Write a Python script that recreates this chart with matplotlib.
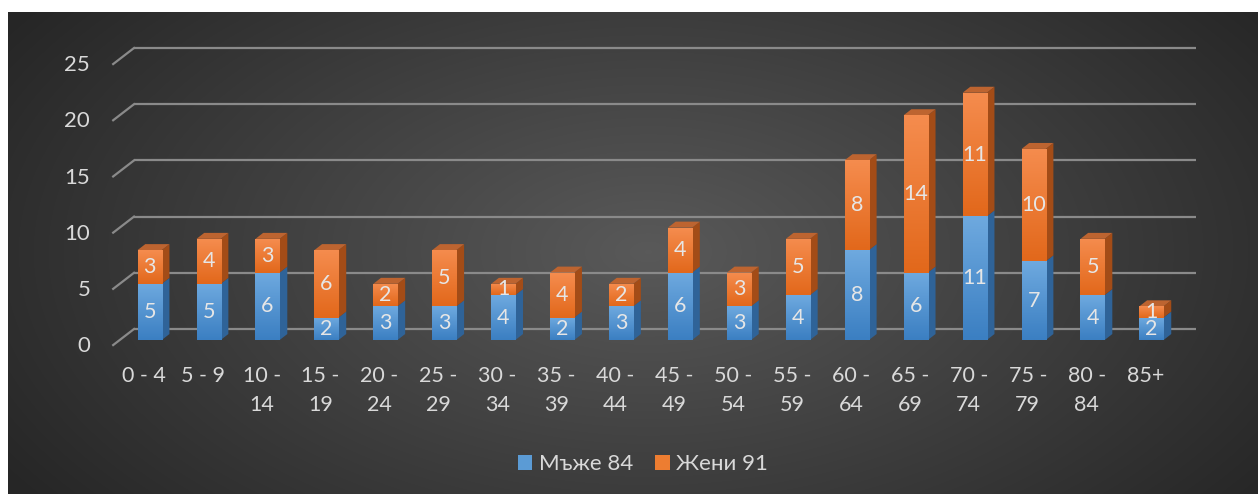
import matplotlib
matplotlib.use('Agg')
import matplotlib.pyplot as plt
from matplotlib.patches import Polygon, Patch
from matplotlib.colors import LinearSegmentedColormap
import numpy as np

# chart data
categories = ['0 - 4', '5 - 9', '10 -\n14', '15 -\n19', '20 -\n24', '25 -\n29',
              '30 -\n34', '35 -\n39', '40 -\n44', '45 -\n49', '50 -\n54', '55 -\n59',
              '60 -\n64', '65 -\n69', '70 -\n74', '75 -\n79', '80 -\n84', '85+']
men = [5, 5, 6, 2, 3, 3, 4, 2, 3, 6, 3, 4, 8, 6, 11, 7, 4, 2]
women = [3, 4, 3, 6, 2, 5, 1, 4, 2, 4, 3, 5, 8, 14, 11, 10, 5, 1]
series_names = ['Мъже 84', 'Жени 91']
y_ticks = [0, 5, 10, 15, 20, 25]

plt.rcParams['font.family'] = ['Lato', 'Open Sans', 'DejaVu Sans']
txt_col = '#d9d9d9'

W, H = 1258, 494
fig = plt.figure(figsize=(W / 100, H / 100), dpi=100)
fig.patch.set_facecolor('white')

# dark radial background
bg = fig.add_axes([8 / W, 0, 1 - 8 / W, (H - 12) / H])
bg.axis('off')
yy, xx = np.mgrid[0:H - 12, 0:W - 8]
r = np.sqrt(((xx - 640) / 760.0) ** 2 + ((yy - 240) / 420.0) ** 2)
r = np.clip(r, 0, 1)
shade = 0.35 - 0.2 * r
bg.imshow(np.dstack([shade, shade, shade]), aspect='auto', interpolation='bilinear')

# main axes over the whole figure, data units map onto pixels
ax = fig.add_axes([0, 0, 1, 1])
ax.patch.set_alpha(0)
ax.axis('off')
step_px, unit_px, x0_px, y0_px = 58.93, 11.24, 149.7, 340
xlim = (-x0_px / step_px, (W - x0_px) / step_px)
ylim = ((y0_px - H) / unit_px, y0_px / unit_px)

x = np.arange(len(categories))
w = 0.41
dx, dy = 0.13, 0.53

# gridlines at the back wall + left wall diagonals
for v in y_ticks:
    ax.plot([-0.266, 17.755], [v + 0.98, v + 0.98], color='#8a8a8a', lw=1.6, zorder=1,
            solid_capstyle='butt')
    ax.plot([-0.62, -0.266], [v - 0.45, v + 0.98], color='#8a8a8a', lw=1.6, zorder=1)
    ax.text(-1.01, v - 0.55, str(v), color=txt_col, fontsize=16, ha='right', va='center')

blue_cm = LinearSegmentedColormap.from_list('b', ['#3b7fc2', '#6ea9df'])
orange_cm = LinearSegmentedColormap.from_list('o', ['#e2681b', '#f58c4e'])
grad = np.linspace(0, 1, 64).reshape(-1, 1)

def draw_segment(bars, bottoms, vals, cmap, side_col, top_col, z, draw_top):
    for i, p in enumerate(bars):
        b = bottoms[i]
        t = b + vals[i]
        xl = x[i] - w / 2
        xr = x[i] + w / 2
        side = Polygon([(xr, b), (xr + dx, b + dy), (xr + dx, t + dy), (xr, t)],
                       closed=True, facecolor=side_col, edgecolor='none', zorder=z)
        ax.add_patch(side)
        if draw_top:
            top = Polygon([(xl, t), (xl + dx, t + dy), (xr + dx, t + dy), (xr, t)],
                          closed=True, facecolor=top_col, edgecolor='none', zorder=z + 0.1)
            ax.add_patch(top)
        im = ax.imshow(grad, extent=[xl, xr, b, t], origin='lower', cmap=cmap,
                       aspect='auto', zorder=z + 0.2)
        im.set_clip_path(p)
        ax.text(x[i], b + vals[i] / 2, str(vals[i]), color='#e6e6e6', fontsize=15.5,
                ha='center', va='center', zorder=10)

bars_m = ax.bar(x, men, width=w, color='#5b9bd5', zorder=2)
draw_segment(bars_m, [0] * len(men), men, blue_cm, '#2f6398', '#4a87c2', 2, False)
bars_f = ax.bar(x, women, width=w, bottom=men, color='#ed7d31', zorder=3)
draw_segment(bars_f, men, women, orange_cm, '#a34c17', '#bd6430', 3, True)

for i, lab in enumerate(categories):
    ax.text(x[i] - 0.1, -2.3, lab, color=txt_col, fontsize=15.5, ha='center', va='top',
            linespacing=1.6)

ax.set_xlim(*xlim)
ax.set_ylim(*ylim)

handles = [Patch(facecolor='#5b9bd5', label=series_names[0]),
           Patch(facecolor='#ed7d31', label=series_names[1])]
leg = fig.legend(handles=handles, loc='center', bbox_to_anchor=(643 / W, 1 - 464 / H),
                 ncol=2, frameon=False, fontsize=16, handlelength=0.65, handleheight=0.65,
                 handletextpad=0.3, columnspacing=1.0)
for t in leg.get_texts():
    t.set_color(txt_col)

fig.savefig('out.png', dpi=100)
